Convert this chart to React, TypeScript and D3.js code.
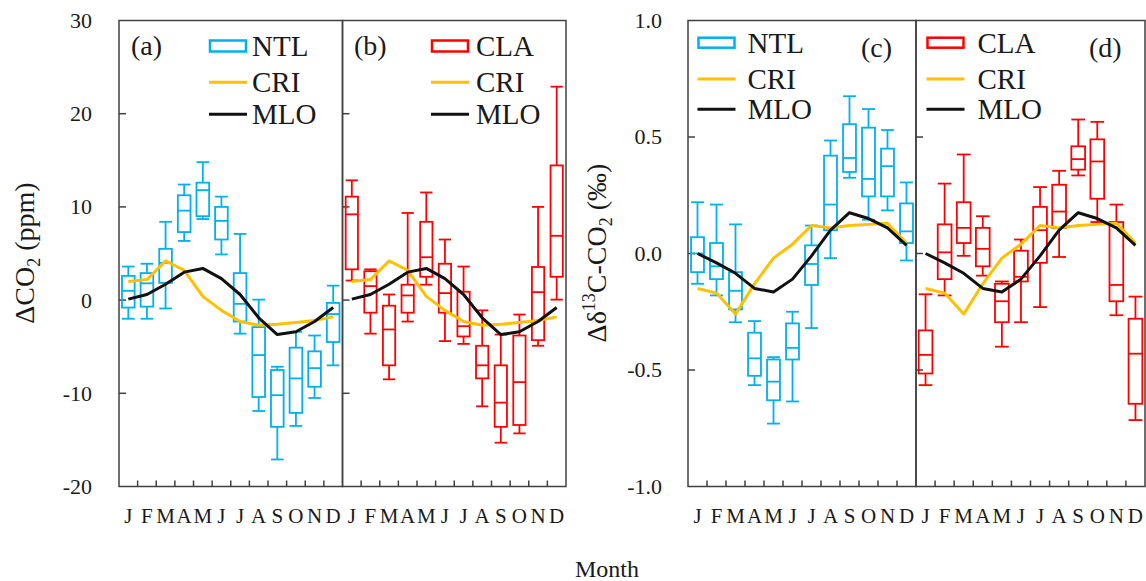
import React from "react";
import * as d3 from "d3";

// ---------------- DATA ----------------
const months = ["J", "F", "M", "A", "M", "J", "J", "A", "S", "O", "N", "D"];
const co2Ticks = [30, 20, 10, 0, -10, -20];
const d13cTicks = [1.0, 0.5, 0.0, -0.5, -1.0];

// box stats per month: [min, q1, median, q3, max]
const ntlCO2 = [
  [-2.0, -0.8, 1.0, 2.6, 3.6],
  [-2.0, -0.7, 1.8, 2.9, 3.9],
  [-0.9, 1.85, 4.0, 5.5, 8.4],
  [6.35, 7.3, 9.6, 11.25, 12.4],
  [8.7, 9.0, 11.8, 12.6, 14.8],
  [4.9, 6.5, 8.5, 10.0, 11.1],
  [-3.6, -2.3, -0.4, 2.9, 7.1],
  [-11.9, -10.4, -5.9, -2.9, 0.05],
  [-17.1, -13.6, -10.2, -7.5, -7.15],
  [-13.5, -12.1, -8.4, -5.1, -3.4],
  [-10.5, -9.3, -7.3, -5.5, -3.8],
  [-7.0, -4.5, -1.5, -0.3, 1.55],
];
const claCO2 = [
  [2.1, 3.3, 9.2, 11.1, 12.85],
  [-3.6, -1.35, 1.5, 3.1, 3.3],
  [-8.5, -7.0, -3.15, -0.6, 0.6],
  [-2.3, -1.35, 0.5, 1.65, 9.35],
  [1.65, 2.5, 4.6, 8.4, 11.55],
  [-4.4, -1.35, 0.75, 3.9, 6.5],
  [-4.7, -3.9, -2.8, 0.9, 3.6],
  [-11.4, -8.4, -7.0, -4.9, -1.1],
  [-15.3, -13.6, -11.0, -7.0, -3.7],
  [-14.3, -13.4, -8.8, -3.8, -1.55],
  [-4.9, -4.3, 0.85, 3.55, 10.0],
  [0.05, 2.5, 6.9, 14.45, 22.9],
];
const ntlD13C = [
  [-0.13, -0.08, 0.0, 0.07, 0.22],
  [-0.18, -0.11, -0.055, 0.045, 0.21],
  [-0.295, -0.24, -0.16, -0.08, 0.125],
  [-0.565, -0.525, -0.45, -0.34, -0.29],
  [-0.73, -0.63, -0.55, -0.455, -0.445],
  [-0.635, -0.455, -0.405, -0.3, -0.25],
  [-0.32, -0.135, -0.045, 0.035, 0.12],
  [-0.02, 0.1, 0.21, 0.42, 0.485],
  [0.325, 0.35, 0.41, 0.555, 0.675],
  [0.145, 0.245, 0.32, 0.54, 0.62],
  [0.185, 0.245, 0.375, 0.45, 0.53],
  [-0.03, 0.045, 0.095, 0.215, 0.305],
];
const claD13C = [
  [-0.565, -0.515, -0.435, -0.33, -0.175],
  [-0.18, -0.11, 0.005, 0.125, 0.3],
  [-0.01, 0.045, 0.11, 0.22, 0.425],
  [-0.095, -0.055, 0.02, 0.11, 0.16],
  [-0.4, -0.295, -0.205, -0.13, -0.12],
  [-0.295, -0.12, -0.1, 0.012, 0.06],
  [-0.23, -0.04, 0.1, 0.2, 0.285],
  [-0.015, 0.11, 0.18, 0.295, 0.355],
  [0.335, 0.36, 0.405, 0.46, 0.575],
  [0.135, 0.235, 0.395, 0.49, 0.565],
  [-0.265, -0.205, -0.135, 0.135, 0.21],
  [-0.715, -0.645, -0.43, -0.28, -0.185],
];

const criCO2 = [2.0, 2.2, 4.2, 3.2, 0.4, -1.1, -2.3, -2.7, -2.6, -2.4, -2.2, -1.8];
const mloCO2 = [0.1, 0.6, 1.7, 3.0, 3.4, 2.3, 0.6, -1.9, -3.7, -3.4, -2.3, -0.8];
const criD13C = [-0.15, -0.17, -0.26, -0.13, -0.02, 0.04, 0.12, 0.11, 0.12, 0.125, 0.13, 0.045];
const mloD13C = [0.0, -0.04, -0.085, -0.15, -0.165, -0.11, -0.01, 0.1, 0.175, 0.15, 0.11, 0.035];

// ---------------- STYLE ----------------
const W = 1146;
const H = 581;
const TOP = 20.5;
const BOTTOM = 486.5;
const FONT = "Liberation Serif, Times New Roman, serif";
const CYAN = "#00B0F0";
const RED = "#FF0000";
const GOLD = "#FFC000";
const AXIS = "#404040";
const TEXT = "#1a1a1a";

const hy = (s: string) => s.replace("\u2212", "-");

type PanelProps = {
  x0: number;
  x1: number;
  y: d3.ScaleLinear<number, number>;
  boxes: number[][];
  color: string;
  cri: number[];
  mlo: number[];
  yTicks: number[];
  boxFrac: number;
  label: string;
  labelX: number;
  labelY: number;
  legendName: string;
  legendX: number;
  legendRows: number[];
  iconH: number;
  textGap: number;
};

function Panel(p: PanelProps) {
  const x = d3.scaleBand<number>().domain(d3.range(12)).range([p.x0, p.x1]).padding(0);
  const bw = x.bandwidth();
  const cx = (i: number) => (x(i) as number) + bw / 2;
  const boxW = bw * p.boxFrac;
  const line = d3
    .line<number>()
    .x((_, i) => cx(i))
    .y((d) => p.y(d));
  const inner = p.yTicks.filter((t) => p.y(t) > TOP + 1 && p.y(t) < BOTTOM - 1);
  const iconW = 36;
  return (
    <g>
      <rect x={p.x0} y={TOP} width={p.x1 - p.x0} height={BOTTOM - TOP} fill="none" stroke={AXIS} strokeWidth={1.5} />
      {inner.map((t, i) => (
        <line key={"yt" + i} x1={p.x0} x2={p.x0 + 7} y1={p.y(t)} y2={p.y(t)} stroke={AXIS} strokeWidth={1.5} />
      ))}
      {d3.range(1, 12).map((k) => (
        <line key={"xt" + k} x1={x(k) as number} x2={x(k) as number} y1={BOTTOM} y2={BOTTOM - 6} stroke={AXIS} strokeWidth={1.5} />
      ))}
      {months.map((m, i) => (
        <text key={"m" + i} x={cx(i)} y={523} textAnchor="middle" fontFamily={FONT} fontSize={21} fill={TEXT}>
          {m}
        </text>
      ))}
      {p.boxes.map((b, i) => {
        const c = cx(i);
        const [mn, q1, md, q3, mx] = b;
        return (
          <g key={"b" + i} stroke={p.color} strokeWidth={1.8} fill="none">
            <line x1={c} x2={c} y1={p.y(mx)} y2={p.y(q3)} />
            <line x1={c} x2={c} y1={p.y(q1)} y2={p.y(mn)} />
            <line x1={c - boxW / 2} x2={c + boxW / 2} y1={p.y(mx)} y2={p.y(mx)} />
            <line x1={c - boxW / 2} x2={c + boxW / 2} y1={p.y(mn)} y2={p.y(mn)} />
            <rect x={c - boxW / 2} y={p.y(q3)} width={boxW} height={p.y(q1) - p.y(q3)} />
            <line x1={c - boxW / 2} x2={c + boxW / 2} y1={p.y(md)} y2={p.y(md)} />
          </g>
        );
      })}
      <path d={line(p.cri) || ""} fill="none" stroke={GOLD} strokeWidth={3} strokeLinejoin="round" />
      <path d={line(p.mlo) || ""} fill="none" stroke="#111" strokeWidth={3} strokeLinejoin="round" />
      <text x={p.labelX} y={p.labelY} fontFamily={FONT} fontSize={28} fill={TEXT}>
        {p.label}
      </text>
      <rect
        x={p.legendX}
        y={p.legendRows[0] - p.iconH / 2}
        width={iconW}
        height={p.iconH}
        fill="none"
        stroke={p.color}
        strokeWidth={2.5}
      />
      <line x1={p.legendX - 1} x2={p.legendX + iconW + 1} y1={p.legendRows[1]} y2={p.legendRows[1]} stroke={GOLD} strokeWidth={3} />
      <line x1={p.legendX - 1} x2={p.legendX + iconW + 1} y1={p.legendRows[2]} y2={p.legendRows[2]} stroke="#111" strokeWidth={3} />
      {[p.legendName, "CRI", "MLO"].map((t, i) => (
        <text
          key={"lg" + i}
          x={p.legendX + iconW + p.textGap}
          y={p.legendRows[i]}
          dy="0.34em"
          fontFamily={FONT}
          fontSize={29}
          fill={TEXT}
        >
          {t}
        </text>
      ))}
    </g>
  );
}

export default function App() {
  const yCO2 = d3.scaleLinear().domain([-20, 30]).range([BOTTOM, TOP]);
  const yD = d3.scaleLinear().domain([-1, 1]).range([BOTTOM, TOP]);
  const L0 = 119, L1 = 342.5, L2 = 566;
  const R0 = 688, R1 = 916, R2 = 1145;
  return (
    <svg width={W} height={H} style={{ position: "absolute", left: 0, top: 0, background: "#fff" }}>
      <rect x={0} y={0} width={W} height={H} fill="#fff" />
      {co2Ticks.map((t, i) => (
        <text key={"lc" + i} x={92} y={yCO2(t)} dy="0.34em" textAnchor="end" fontFamily={FONT} fontSize={22} fill={TEXT}>
          {hy(d3.format("d")(t))}
        </text>
      ))}
      {d13cTicks.map((t, i) => (
        <text key={"ld" + i} x={662} y={yD(t)} dy="0.34em" textAnchor="end" fontFamily={FONT} fontSize={22} fill={TEXT}>
          {hy(d3.format(".1f")(t))}
        </text>
      ))}
      <text transform="translate(34,253) rotate(-90)" textAnchor="middle" fontFamily={FONT} fontSize={28} fill={TEXT}>
        ΔCO<tspan fontSize={18} dy={6}>2</tspan>
        <tspan dy={-6}> (ppm)</tspan>
      </text>
      <text transform="translate(606,253) rotate(-90)" textAnchor="middle" fontFamily={FONT} fontSize={28} fill={TEXT}>
        Δδ<tspan fontSize={18} dy={-11}>13</tspan>
        <tspan dy={11}>C-CO</tspan>
        <tspan fontSize={18} dy={6}>2</tspan>
        <tspan dy={-6}> (‰)</tspan>
      </text>
      <text x={607} y={577} textAnchor="middle" fontFamily={FONT} fontSize={24} fill={TEXT}>
        Month
      </text>
      <Panel
        x0={L0} x1={L1} y={yCO2} boxes={ntlCO2} color={CYAN} cri={criCO2} mlo={mloCO2} yTicks={co2Ticks}
        boxFrac={0.68} label="(a)" labelX={131} labelY={55} legendName="NTL" legendX={210} legendRows={[46, 82.3, 114.3]} iconH={11} textGap={6}
      />
      <Panel
        x0={L1} x1={L2} y={yCO2} boxes={claCO2} color={RED} cri={criCO2} mlo={mloCO2} yTicks={co2Ticks}
        boxFrac={0.66} label="(b)" labelX={354} labelY={55} legendName="CLA" legendX={432} legendRows={[46, 82.3, 114.3]} iconH={11} textGap={8}
      />
      <Panel
        x0={R0} x1={R1} y={yD} boxes={ntlD13C} color={CYAN} cri={criD13C} mlo={mloD13C} yTicks={d13cTicks}
        boxFrac={0.68} label="(c)" labelX={861} labelY={57} legendName="NTL" legendX={698.5} legendRows={[42.7, 79, 109.3]} iconH={10} textGap={13}
      />
      <Panel
        x0={R1} x1={R2} y={yD} boxes={claD13C} color={RED} cri={criD13C} mlo={mloD13C} yTicks={d13cTicks}
        boxFrac={0.72} label="(d)" labelX={1089} labelY={57} legendName="CLA" legendX={927.5} legendRows={[42.7, 79, 109.3]} iconH={10} textGap={14}
      />
    </svg>
  );
}
